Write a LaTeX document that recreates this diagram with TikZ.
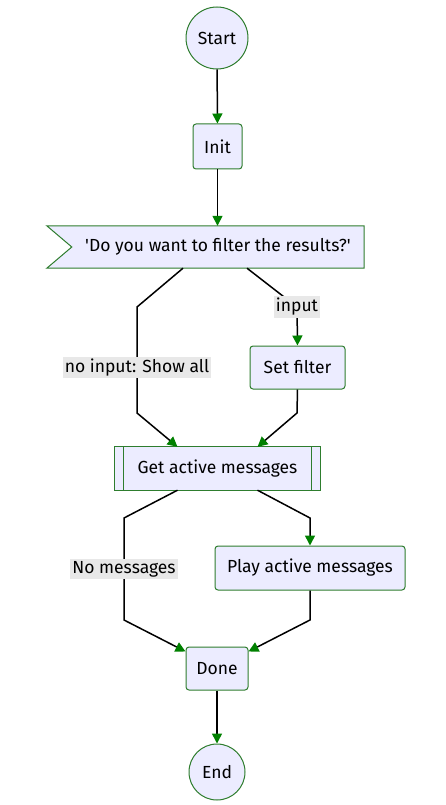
\documentclass[tikz,border=0pt]{standalone}
\usepackage{fontspec}
\setmainfont{Fira Sans}[Ligatures=TeXOff]
\usetikzlibrary{arrows.meta,calc}
\definecolor{nodefill}{HTML}{ECECFF}
\definecolor{fgreen}{HTML}{2E7D2E}
\definecolor{agreen}{HTML}{008000}
\definecolor{lblgray}{HTML}{E8E8E8}
\begin{document}
\begin{tikzpicture}[x=1pt,y=-1pt,
  txt/.style={font=\fontsize{17.5}{20}\selectfont},
  box/.style={txt, draw=fgreen, fill=nodefill, rounded corners=3pt, line width=1pt, inner sep=0pt},
  circ/.style={txt, circle, draw=fgreen, fill=nodefill, line width=1pt, inner sep=0pt},
  plain/.style={txt, inner sep=0pt},
  arr/.style={line width=1.5pt, -{Triangle[length=10pt,width=10pt,color=agreen,fill=agreen]}},
  lbl/.style={txt, fill=lblgray, inner sep=2pt}
]
\useasboundingbox (0,0) rectangle (446,805);
% nodes
\node[circ, minimum size=62pt] (s) at (217,38) {Start};
\node[box, minimum width=49pt, minimum height=45pt] (i) at (217.5,146.5) {Init};
\node[plain, minimum width=317pt, minimum height=42pt] (q) at (205.5,247) {\hspace{25pt}'Do you want to filter the results?'};
\draw[draw=fgreen, fill=nodefill, line width=1pt] (q.north west) -- (q.north east) -- (q.south east) -- (q.south west) -- ([xshift=25pt]q.west) -- cycle;
\node[plain] at (q) {\hspace{25pt}'Do you want to filter the results?'};
\node[box, minimum width=95pt, minimum height=43pt] (f) at (297.5,367.5) {Set filter};
\node[plain, minimum width=205pt, minimum height=43pt] (g) at (217.5,468.5) {Get active messages};
\draw[draw=fgreen, fill=nodefill, line width=1pt] (g.north west) rectangle (g.south east);
\draw[draw=fgreen, line width=1pt] ([xshift=9pt]g.north west) -- ([xshift=9pt]g.south west);
\draw[draw=fgreen, line width=1pt] ([xshift=-9pt]g.north east) -- ([xshift=-9pt]g.south east);
\node[plain] at (g) {Get active messages};
\node[box, minimum width=190pt, minimum height=44pt] (p) at (310,568) {Play active messages};
\node[box, minimum width=62pt, minimum height=43pt] (d) at (217,668.5) {Done};
\node[circ, minimum size=56pt] (e) at (217,772) {End};
% bend coordinates
\coordinate (c1) at (137,307);
\coordinate (c2) at (137,413);
\coordinate (c3) at (297,307);
\coordinate (c4) at (297,413);
\coordinate (c5) at (124,518);
\coordinate (c6) at (124,620);
\coordinate (c7) at (310,518);
\coordinate (c8) at (310,620);
% edges
\draw[arr] (s) -- (i);
\draw[arr] (i.south) -- (i.south |- q.north);
\draw[arr] ([xshift=-22.5pt]q.south) -- (c1) -- node[lbl,pos=0.57]{no input: Show all} (c2) -- ([xshift=-40pt]g.north);
\draw[arr] ([xshift=41.5pt]q.south) -- (c3) node[lbl]{input} -- (f.north);
\draw[arr] (f.south) -- (c4) -- ([xshift=40pt]g.north);
\draw[arr] ([xshift=-40pt]g.south) -- (c5) -- node[lbl]{No messages} (c6) -- ([yshift=-5pt]d.north west);
\draw[arr] ([xshift=40pt]g.south) -- (c7) -- (p.north);
\draw[arr] (p.south) -- (c8) -- ([yshift=-5pt]d.north east);
\draw[arr] (d) -- (e);
\end{tikzpicture}
\end{document}
